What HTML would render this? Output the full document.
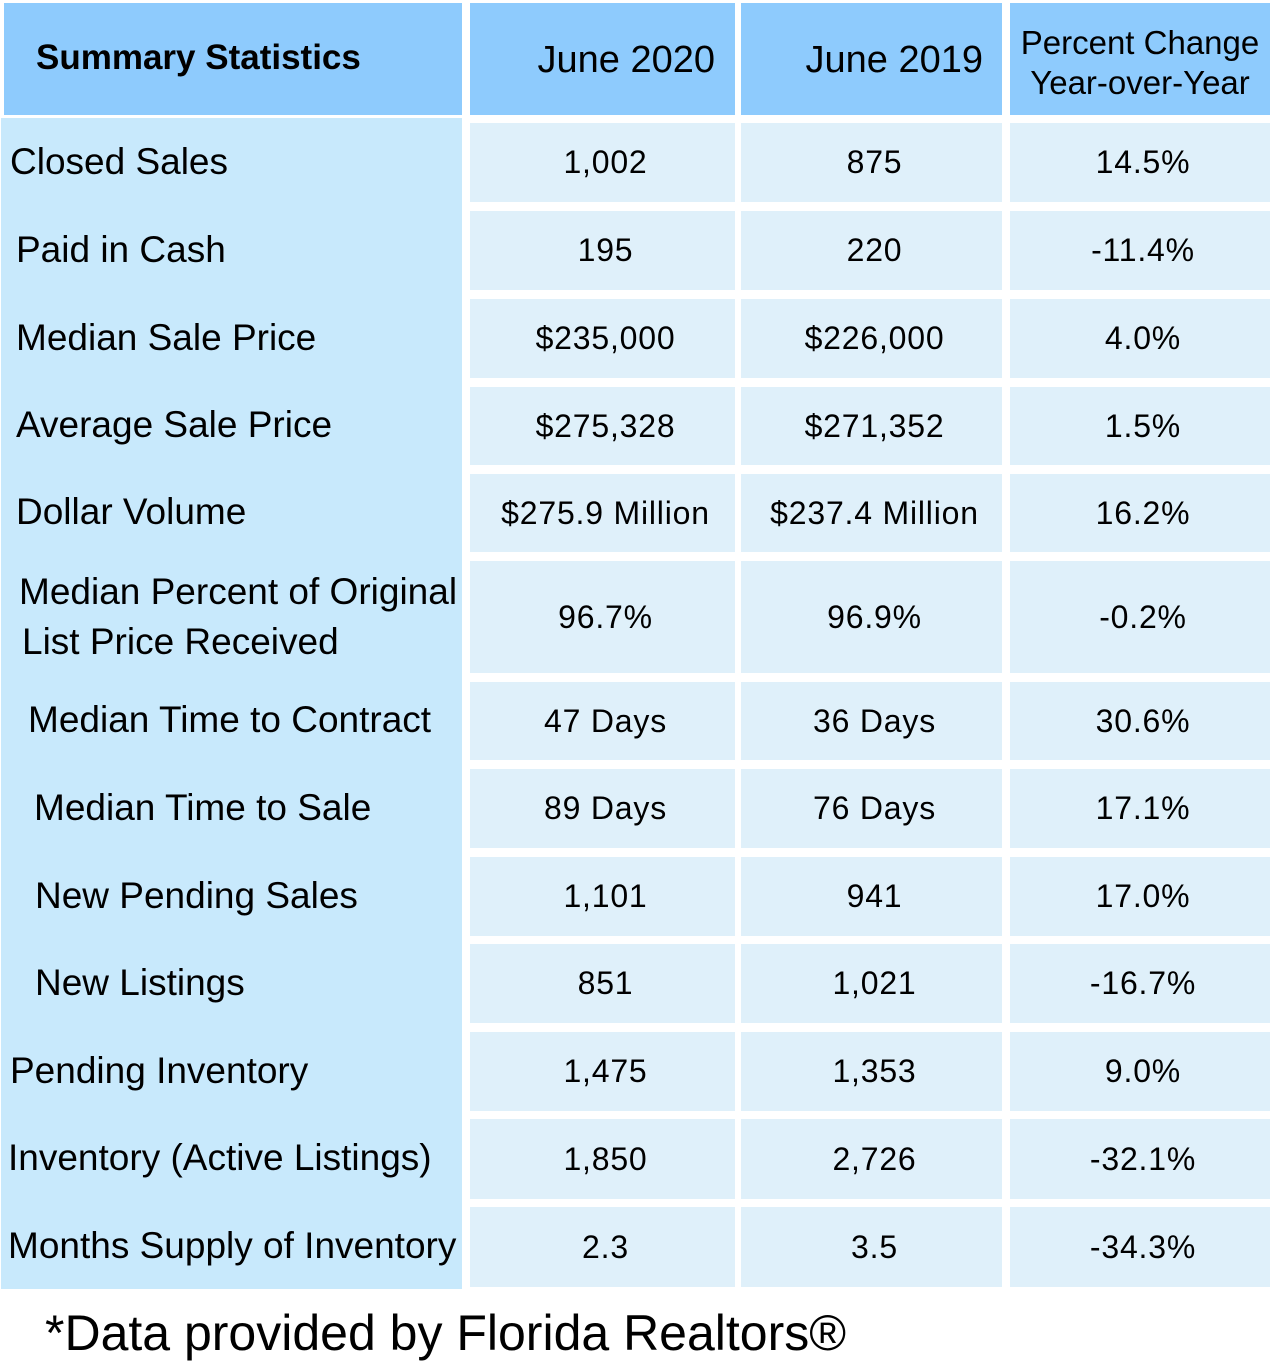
<!DOCTYPE html>
<html><head><meta charset="utf-8"><style>
body{margin:0;width:1279px;height:1361px;background:#fff;position:relative;overflow:hidden;font-family:"Liberation Sans",sans-serif;color:#000}
.a{position:absolute;box-sizing:border-box}
.h{background:#8ecbfd}
.c{background:#dff0fa;display:flex;align-items:center;justify-content:center;font-size:32px;letter-spacing:0.8px;padding-left:6px}
.l{font-size:37px;white-space:nowrap;line-height:1.45}
</style></head><body>
<div class="a h" style="left:4px;top:3px;width:458px;height:112px"></div>
<div class="a" style="left:36px;top:38px;font-size:35px;font-weight:bold">Summary Statistics</div>
<div class="a h" style="left:470px;top:3px;width:265px;height:112px;font-size:38px;text-align:right;padding:36px 20px 0 0">June 2020</div>
<div class="a h" style="left:741px;top:3px;width:261px;height:112px;font-size:38px;text-align:right;padding:36px 19px 0 0">June 2019</div>
<div class="a h" style="left:1010px;top:3px;width:260px;height:112px;font-size:33px;text-align:center;line-height:40px;padding-top:20px;white-space:nowrap">Percent Change<br>Year-over-Year</div>
<div class="a" style="left:1px;top:118px;width:461px;height:1171px;background:#c8e9fc"></div>
<div id="rows"></div>
<div class="a" style="left:45px;top:1304px;font-size:50px">*Data provided by Florida Realtors®</div>
<script>
const labels=["Closed Sales","Paid in Cash","Median Sale Price","Average Sale Price","Dollar Volume","Median Percent of Original<br>List Price Received","Median Time to Contract","Median Time to Sale","New Pending Sales","New Listings","Pending Inventory","Inventory (Active Listings)","Months Supply of Inventory"];
const june2020=["1,002","195","$235,000","$275,328","$275.9 Million","96.7%","47 Days","89 Days","1,101","851","1,475","1,850","2.3"];
const june2019=["875","220","$226,000","$271,352","$237.4 Million","96.9%","36 Days","76 Days","941","1,021","1,353","2,726","3.5"];
const pctChange=["14.5%","-11.4%","4.0%","1.5%","16.2%","-0.2%","30.6%","17.1%","17.0%","-16.7%","9.0%","-32.1%","-34.3%"];
const tops=[123,211,299,387,474,561,682,769,857,944,1032,1119,1207];
const bots=[202,290,378,465,552,673,760,848,936,1023,1111,1199,1287];
const lx=[10,16,16,16,16,19,28,34,35,35,10,8,8];
const cols=[[470,265],[741,261],[1010,260]];
const root=document.getElementById('rows');
labels.forEach((lab,i)=>{
  const t=tops[i],h=bots[i]-tops[i];
  const l=document.createElement('div');
  l.className='a l';
  
  
  l.style.left=lx[i]+'px';
  l.style.top=(i==5? t+6 : t+h/2-28)+'px';
  if(i==5){l.style.lineHeight='50px';l.innerHTML=lab.replace('<br>','<br><span style="margin-left:3px"></span>');}
  else l.innerHTML=lab;
  root.appendChild(l);
  [june2020[i],june2019[i],pctChange[i]].forEach((v,j)=>{
    const c=document.createElement('div');
    c.className='a c';
    
    
    c.style.left=cols[j][0]+'px';c.style.width=cols[j][1]+'px';
    c.style.top=t+'px';c.style.height=h+'px';
    c.textContent=v;root.appendChild(c);
  });
});
</script>
</body></html>
